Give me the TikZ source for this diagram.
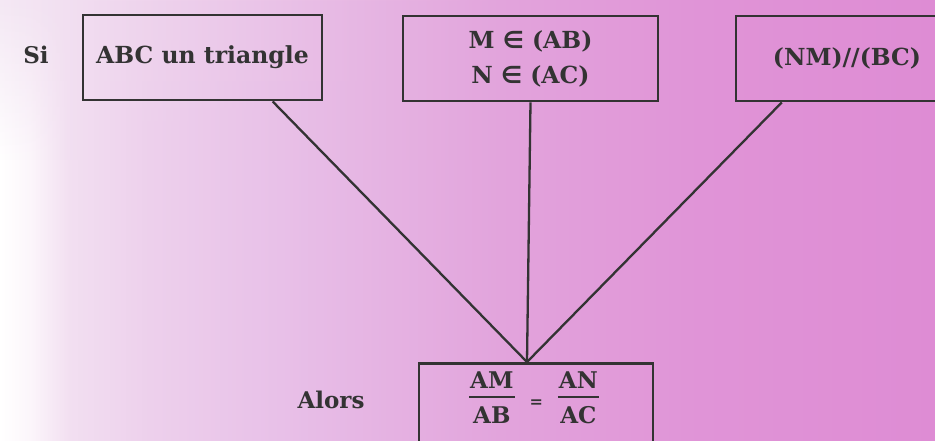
\documentclass[tikz,border=0pt]{standalone}
\usepackage{fontspec}
\setmainfont{DejaVu Serif}
\newfontfamily\symf{DejaVu Sans}
\usetikzlibrary{fadings,calc}
\definecolor{ink}{HTML}{333333}
\definecolor{ca}{HTML}{FCF6FB}
\definecolor{cb}{HTML}{F2DFF1}
\definecolor{cc}{HTML}{EDD0EC}
\definecolor{cd}{HTML}{E8C0E8}
\definecolor{ce}{HTML}{E2A4DC}
\definecolor{cf}{HTML}{E094D7}
\definecolor{cg}{HTML}{DE8CD4}
\definecolor{topc}{HTML}{F4E8F4}
\pgfdeclarehorizontalshading{bgshade}{100bp}{color(0bp)=(white); color(25bp)=(white); color(26.6bp)=(ca); color(28.7bp)=(cb); color(33bp)=(cc); color(40bp)=(cd); color(51.7bp)=(ce); color(62.4bp)=(cf); color(75bp)=(cg); color(100bp)=(cg)}
\tikzfading[name=topdown, top color=transparent!0, bottom color=transparent!100]
\newcommand\fr[2]{{\setlength\arrayrulewidth{1.8pt}\setlength\tabcolsep{1pt}\begin{tabular}{c}#1\\[0pt]\hline\rule{0pt}{25pt}#2\end{tabular}}}
\tikzset{
  box/.style={draw=ink, line width=2.8pt, rectangle, inner sep=0pt, font=\bfseries\fontsize{23.5}{35}\selectfont, align=center, text=ink},
  lbl/.style={inner sep=0pt, font=\bfseries\fontsize{23}{30}\selectfont, text=ink},
  link/.style={draw=ink, line width=2.3pt}
}
\begin{document}
\begin{tikzpicture}[x=1pt,y=-1pt]
\useasboundingbox (0,0) rectangle (935,440);
\clip (0,0) rectangle (935,440);
\shade[shading=bgshade] (0,0) rectangle (935,440);
\shade[left color=topc, right color=ce, path fading=topdown] (0,0) rectangle (500,160);
\node[lbl] (si) at (36,55) {Si};
\node[box, minimum width=239pt, minimum height=85pt] (b1) at (202.5,57.5) {ABC un triangle};
\node[box, minimum width=255pt, minimum height=85pt] (b2) at (530.5,58.5) {M {\symf\bfseries ∈} (AB)\\N {\symf\bfseries ∈} (AC)};
\node[box, minimum width=222pt, minimum height=85pt] (b3) at (847,58.5) {(NM)//(BC)};
\node[box, minimum width=234pt, minimum height=90pt, anchor=north] (res) at (536,362) {};
\node[lbl, font=\bfseries\fontsize{23}{25}\selectfont] (frac) at (534,401) {\fr{AM}{AB}\hspace{15pt}{\fontsize{16}{16}\selectfont=}\hspace{15pt}\fr{AN}{AC}};
\node[lbl] (alors) at (331,400) {Alors};
\coordinate (apex) at (527,362);
\draw[link] ($(b1.south west)!0.79!(b1.south east)$) -- (apex);
\draw[link] (b2.south) -- (apex);
\draw[link] ($(b3.south west)!0.21!(b3.south east)$) -- (apex);
\end{tikzpicture}
\end{document}
